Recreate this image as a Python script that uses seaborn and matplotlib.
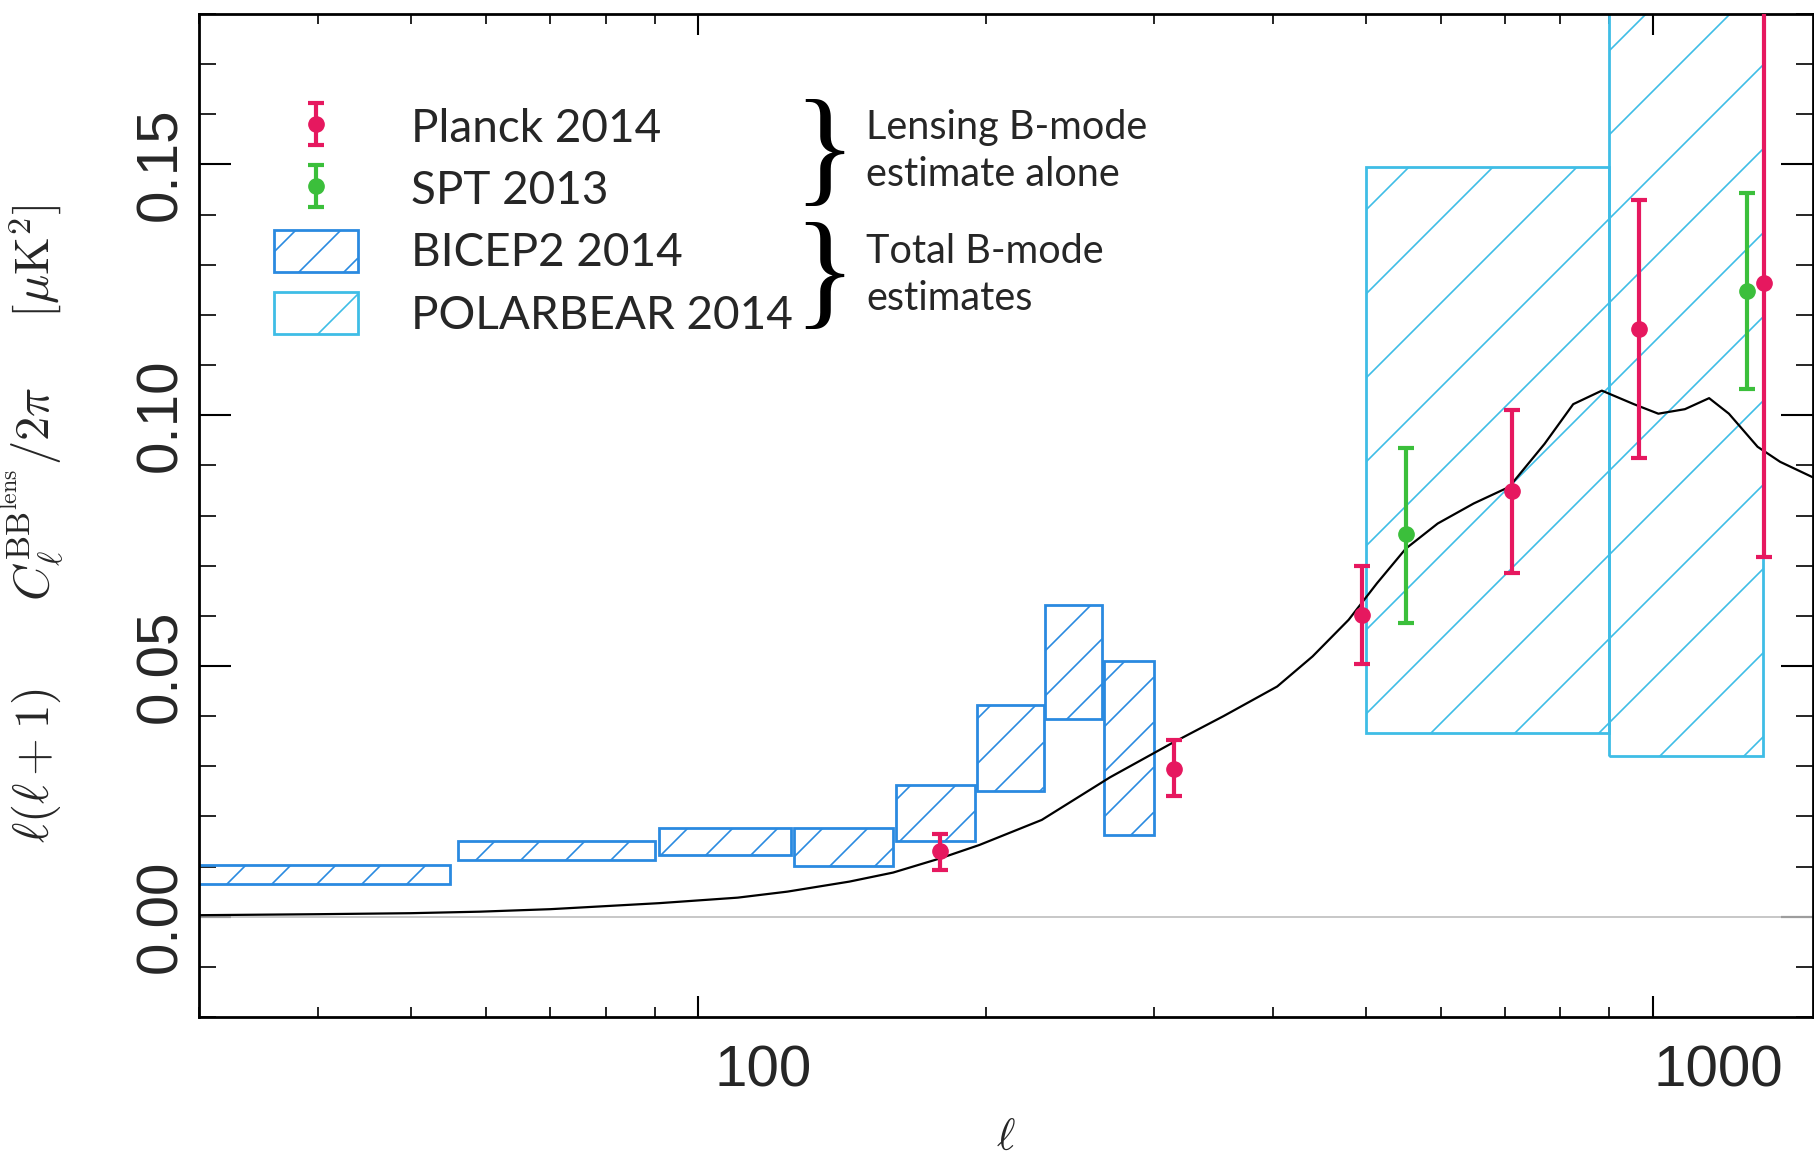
import numpy as np
import matplotlib
matplotlib.use("Agg")
import matplotlib.pyplot as plt
import seaborn as sns
from matplotlib import font_manager
from matplotlib.patches import Rectangle, Patch
from matplotlib.collections import LineCollection
from matplotlib.transforms import Bbox, IdentityTransform, ScaledTranslation
from matplotlib.ticker import (FixedLocator, LogLocator, MultipleLocator,
                               NullFormatter, FormatStrFormatter)
from matplotlib.legend_handler import HandlerErrorbar

# lensing BB theory curve
theory_ell = [30, 40, 50, 59, 70, 91, 110, 124, 144, 160, 179, 197, 229, 270, 312,
              355, 404, 440, 480, 514, 551, 595, 649, 707, 770, 825, 884, 955,
              1013, 1080, 1145, 1201, 1287, 1359, 1471]
theory_cl = [0.0003, 0.0005, 0.0007, 0.0010, 0.0015, 0.0027, 0.0038, 0.0050, 0.0070,
             0.0088, 0.0116, 0.0143, 0.0193, 0.0278, 0.0344, 0.0400, 0.0459, 0.0519,
             0.0592, 0.0665, 0.0734, 0.0784, 0.0824, 0.0857, 0.0943, 0.1022, 0.1049,
             0.1022, 0.1003, 0.1012, 0.1034, 0.1003, 0.0937, 0.0907, 0.0876]

# Planck 2014
planck_ell = [179, 315, 496, 711, 967, 1307]
planck_val = [0.0132, 0.0294, 0.0601, 0.0849, 0.1171, 0.1263]
planck_lo = [0.0094, 0.0241, 0.0504, 0.0686, 0.0915, 0.0718]
planck_hi = [0.0165, 0.0352, 0.0700, 0.1011, 0.1429, 0.2000]

# SPT 2013
spt_ell = [551, 1255]
spt_val = [0.0764, 0.1248]
spt_lo = [0.0586, 0.1052]
spt_hi = [0.0935, 0.1444]

# BICEP2 2014 band powers
bicep_lo = [20, 56, 91, 126, 161, 196, 231, 266]
bicep_hi = [55, 90, 125, 160, 195, 230, 265, 300]
bicep_bot = [0.0065, 0.0113, 0.0123, 0.0101, 0.0150, 0.0251, 0.0394, 0.0163]
bicep_top = [0.0103, 0.0150, 0.0176, 0.0176, 0.0263, 0.0422, 0.0622, 0.0510]

# POLARBEAR 2014 band powers
polar_lo = [500, 900]
polar_hi = [900, 1305]
polar_bot = [0.0367, 0.0321]
polar_top = [0.1494, 0.3000]

planck_color = "#E6185F"
spt_color = "#3BBF3B"
bicep_color = "#2A8AE0"
polar_color = "#3FBDE6"

sns.set_theme(style="ticks")
plt.rcParams["mathtext.fontset"] = "cm"

# narrow sans for the tick numbers if one is around
installed = {f.name for f in font_manager.fontManager.ttflist}
if "Liberation Sans Narrow" in installed:
    tick_family, tick_size = "Liberation Sans Narrow", 46
else:
    tick_family, tick_size = "Liberation Sans", 42
plt.rcParams["font.family"] = [tick_family, "DejaVu Sans"]

fig = plt.figure(figsize=(18.15, 11.56), dpi=100)
ax = fig.add_axes([199 / 1815, 1 - 1017 / 1156, (1813 - 199) / 1815, (1017 - 14) / 1156])

ax.axhline(0, color="#bdbdbd", lw=1.2, zorder=1)

bicep_rects = []
for lo, hi, bot, top in zip(bicep_lo, bicep_hi, bicep_bot, bicep_top):
    r = Rectangle((lo, bot), hi - lo, top - bot, fill=False, ec=bicep_color, lw=2, zorder=2)
    ax.add_patch(r)
    bicep_rects.append(r)

polar_rects = []
for lo, hi, bot, top in zip(polar_lo, polar_hi, polar_bot, polar_top):
    r = Rectangle((lo, bot), hi - lo, top - bot, fill=False, ec=polar_color, lw=2, zorder=2)
    ax.add_patch(r)
    polar_rects.append(r)

sns.lineplot(x=theory_ell, y=theory_cl, color="black", lw=1.6, ax=ax, zorder=3)

pl = ax.errorbar(planck_ell, planck_val,
                 yerr=[np.subtract(planck_val, planck_lo), np.subtract(planck_hi, planck_val)],
                 fmt="o", color=planck_color, ms=11, elinewidth=3, capsize=6,
                 capthick=3, zorder=5)
sp = ax.errorbar(spt_ell, spt_val,
                 yerr=[np.subtract(spt_val, spt_lo), np.subtract(spt_hi, spt_val)],
                 fmt="o", color=spt_color, ms=11, elinewidth=3, capsize=6,
                 capthick=3, zorder=5)

ax.set_xscale("log")
ax.set_xlim(30, 1471)
ax.set_ylim(-0.02, 0.18)

ax.xaxis.set_major_locator(FixedLocator([100, 1000]))
ax.xaxis.set_major_formatter(FormatStrFormatter("%d"))
ax.xaxis.set_minor_locator(LogLocator(base=10, subs=np.arange(2, 10), numticks=20))
ax.xaxis.set_minor_formatter(NullFormatter())
ax.yaxis.set_major_locator(MultipleLocator(0.05))
ax.yaxis.set_minor_locator(MultipleLocator(0.01))
ax.yaxis.set_major_formatter(FormatStrFormatter("%.2f"))

for s in ax.spines.values():
    s.set_color("black")
    s.set_linewidth(2)

ax.tick_params(which="both", direction="in", top=True, right=True, color="black")
ax.tick_params(axis="x", which="major", length=15, width=1.5, labelsize=tick_size, pad=20)
ax.tick_params(axis="x", which="minor", length=7, width=1.2)
ax.tick_params(axis="y", which="major", length=23, width=1.5, labelsize=tick_size, pad=8)
ax.tick_params(axis="y", which="minor", length=12, width=1.2)
for lab in ax.get_yticklabels():
    lab.set_rotation(90)
    lab.set_va("center")
offset = ScaledTranslation(0.65, 0, fig.dpi_scale_trans)
for lab in ax.xaxis.get_majorticklabels():
    lab.set_transform(lab.get_transform() + offset)

ax.set_ylabel(r"$\ell(\ell+1)\qquad C_\ell^{\mathrm{BB}^{\mathrm{lens}}}/2\pi\quad\ \ [\mu\mathrm{K}^2]$",
              fontsize=35, va="center")
ax.yaxis.set_label_coords(-0.1033, 0.492)
ax.set_xlabel(r"$\ell$", fontsize=32)
ax.xaxis.set_label_coords(0.5, -0.101)

leg_font = {"family": "Lato", "size": 33}
bicep_handle = Patch(facecolor="none", edgecolor=bicep_color, lw=2)
polar_handle = Patch(facecolor="none", edgecolor=polar_color, lw=2)
leg = ax.legend([pl, sp, bicep_handle, polar_handle],
                ["Planck 2014", "SPT 2013", "BICEP2 2014", "POLARBEAR 2014"],
                loc="upper left", bbox_to_anchor=(0.0464, 0.9085), frameon=False,
                prop=leg_font, handlelength=1.83, handleheight=1.03,
                handletextpad=1.16, labelspacing=0.38, borderpad=0, borderaxespad=0,
                handler_map={type(pl): HandlerErrorbar(xerr_size=0.45)})

brace_font = dict(family="Liberation Serif", fontsize=93, color="black")
fig.text(824 / 1815, 1 - 158 / 1156, "}", ha="center", va="center", **brace_font)
fig.text(824 / 1815, 1 - 281 / 1156, "}", ha="center", va="center", **brace_font)
fig.text(866 / 1815, 1 - 151 / 1156, "Lensing B-mode\nestimate alone", ha="left",
         va="center", family="Lato", fontsize=28.5, linespacing=1.35)
fig.text(866 / 1815, 1 - 275 / 1156, "Total B-mode\nestimates", ha="left",
         va="center", family="Lato", fontsize=28.5, linespacing=1.35)

# custom diagonal hatching clipped to each box (wider than matplotlib's built-in)
fig.canvas.draw()
ax_bb = ax.get_window_extent()


def add_hatch(bb, spacing, color, lw=1.2):
    bb = Bbox.intersection(bb, ax_bb)
    if bb is None:
        return
    k0 = np.floor((bb.y0 - bb.x1) / spacing)
    k1 = np.ceil((bb.y1 - bb.x0) / spacing)
    segs = [[(bb.x0, bb.x0 + k * spacing), (bb.x1, bb.x1 + k * spacing)]
            for k in np.arange(k0, k1 + 1)]
    lc = LineCollection(segs, colors=color, linewidths=lw, transform=IdentityTransform(),
                        zorder=2)
    ax.add_collection(lc, autolim=False)
    lc.set_clip_path(None)
    lc.set_clip_box(bb)


for r in bicep_rects:
    add_hatch(r.get_window_extent(), 45, bicep_color)
for r in polar_rects:
    add_hatch(r.get_window_extent(), 84, polar_color)
handles = leg.legend_handles
add_hatch(handles[2].get_window_extent(), 45, bicep_color)
add_hatch(handles[3].get_window_extent(), 84, polar_color)

fig.savefig("out.png", dpi=100)
plt.close(fig)
